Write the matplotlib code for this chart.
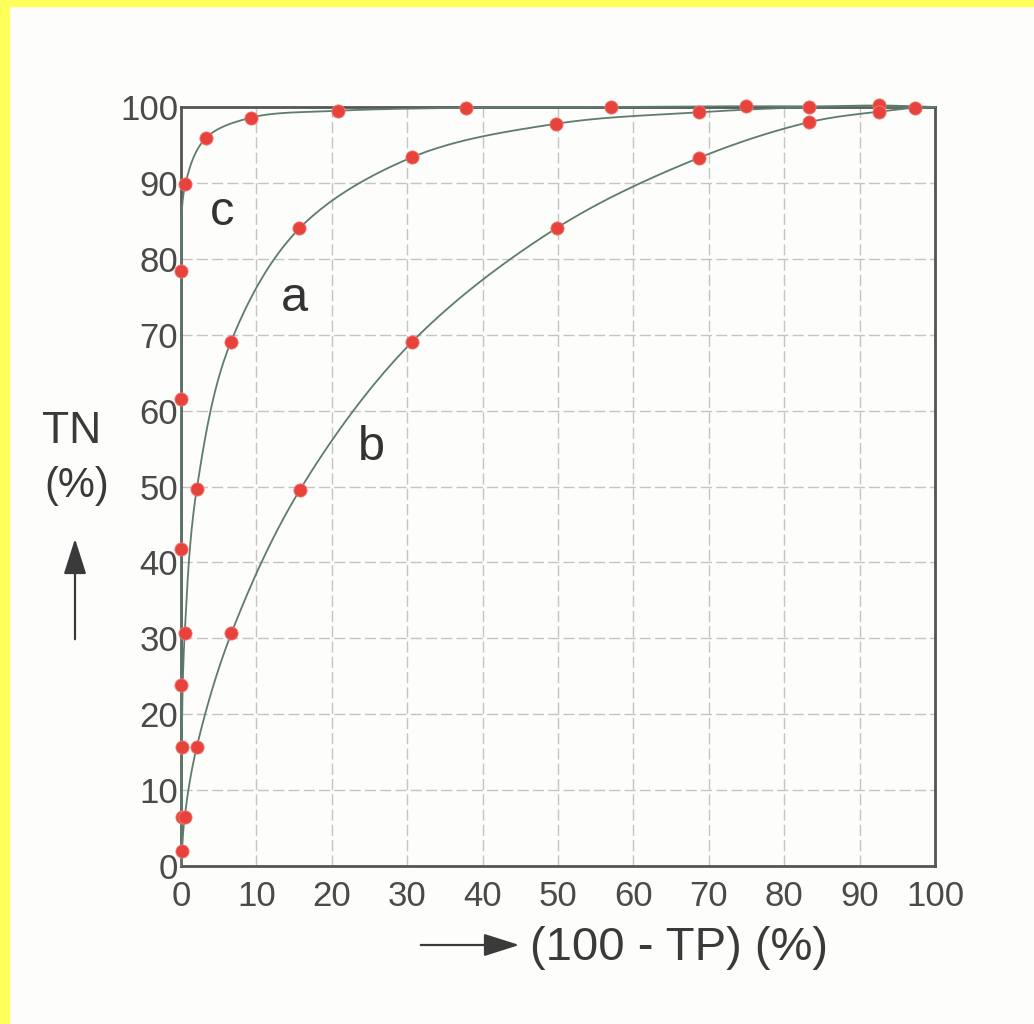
import numpy as np
import matplotlib.pyplot as plt
from matplotlib.patches import Rectangle

plt.rcParams['font.family'] = ['Liberation Sans', 'DejaVu Sans']

# points: x = (100 - TP) %, y = TN %
a_x = [0.1, 0.1, 0.5, 2.1, 6.6, 15.7, 30.7, 49.8, 68.7, 83.3, 92.6]
a_y = [6.5, 15.7, 30.7, 49.7, 69.0, 84.0, 93.4, 97.8, 99.3, 100.0, 100.2]

b_x = [0.5, 2.1, 6.7, 15.8, 30.6, 49.9, 68.7, 83.3, 92.6, 97.3]
b_y = [6.5, 15.7, 30.7, 49.6, 69.0, 84.1, 93.3, 98.0, 99.4, 99.9]

c_x = [0.1, 0.0, 0.0, 0.0, 0.0, 0.6, 3.3, 9.3, 20.8, 37.8, 57.0, 75.0]
c_y = [2.0, 23.8, 41.8, 61.5, 78.4, 89.9, 95.9, 98.6, 99.5, 99.9, 100.0, 100.1]

ticks = [0, 10, 20, 30, 40, 50, 60, 70, 80, 90, 100]
curve_labels = {'a': (15.1, 73.1), 'b': (25.3, 53.5), 'c': (5.4, 84.5)}


def smooth(xs, ys, n=30):
    # centripetal catmull-rom, just for drawing the line through the points
    p = np.column_stack([xs, ys]).astype(float)
    p = np.vstack([2 * p[0] - p[1], p, 2 * p[-1] - p[-2]])
    out = []
    for i in range(1, len(p) - 2):
        p0, p1, p2, p3 = p[i - 1], p[i], p[i + 1], p[i + 2]
        t0 = 0.0
        t1 = t0 + np.linalg.norm(p1 - p0) ** 0.5
        t2 = t1 + np.linalg.norm(p2 - p1) ** 0.5
        t3 = t2 + np.linalg.norm(p3 - p2) ** 0.5
        t = np.linspace(t1, t2, n)[:, None]
        a1 = (t1 - t) / (t1 - t0) * p0 + (t - t0) / (t1 - t0) * p1
        a2 = (t2 - t) / (t2 - t1) * p1 + (t - t1) / (t2 - t1) * p2
        a3 = (t3 - t) / (t3 - t2) * p2 + (t - t2) / (t3 - t2) * p3
        b1 = (t2 - t) / (t2 - t0) * a1 + (t - t0) / (t2 - t0) * a2
        b2 = (t3 - t) / (t3 - t1) * a2 + (t - t1) / (t3 - t1) * a3
        out.append((t2 - t) / (t2 - t1) * b1 + (t - t1) / (t2 - t1) * b2)
    out = np.vstack(out)
    return out[:, 0], out[:, 1]


fig = plt.figure(figsize=(10.34, 10.24), dpi=100, facecolor='#fdfdfb')
ax = fig.add_axes([0.175, 0.1543, 0.7292, 0.7412])
ax.set_facecolor('#fdfdfb')

line_col = '#5e7c6c'
dot_col = '#e8423c'

for xs, ys in [(a_x, a_y), (b_x, b_y), (c_x, c_y)]:
    lx, ly = smooth([0] + xs + [100], [0] + ys + [100])
    ax.plot(np.clip(lx, 0, 100), np.clip(ly, 0, 100.2), color=line_col, linewidth=1.3, zorder=3, clip_on=False)

for xs, ys in [(a_x, a_y), (b_x, b_y), (c_x, c_y)]:
    ax.plot(xs, ys, linestyle='none', marker='o', markersize=9.5, markerfacecolor=dot_col,
            markeredgecolor='#f07a70', markeredgewidth=0.6, zorder=4, clip_on=False)

for name, (tx, ty) in curve_labels.items():
    ax.text(tx, ty, name, fontsize=35, color='#333333', ha='center', va='baseline')

ax.set_xlim(0, 100)
ax.set_ylim(0, 100)
ax.set_xticks(ticks)
ax.set_yticks(ticks)
ax.grid(True, color='#c4c4c4', linestyle=(0, (8, 3)), linewidth=1.0)
ax.set_axisbelow(True)
ax.tick_params(length=0, labelsize=25, labelcolor='#4a4a4a')
ax.tick_params(axis='x', pad=10)
ax.tick_params(axis='y', pad=2)
for s in ax.spines.values():
    s.set_color('#555555')
    s.set_linewidth(2)
    s.set_zorder(2)

fig.text(72 / 1034, 0.5674, 'TN', fontsize=32, color='#3a3a3a', ha='center', va='baseline')
fig.text(77 / 1034, 0.5146, '(%)', fontsize=30, color='#3a3a3a', ha='center', va='baseline')
fig.text(530 / 1034, 0.0625, '(100 - TP) (%)', fontsize=34, color='#3a3a3a', ha='left', va='baseline')

arrow = dict(arrowstyle='-|>,head_length=2.2,head_width=0.7', color='#3a3a3a', lw=1.6)
ax.annotate('', xy=(75, 1024 - 536), xytext=(75, 1024 - 642), xycoords='figure pixels',
            textcoords='figure pixels', arrowprops=arrow)
ax.annotate('', xy=(522, 1024 - 945), xytext=(418, 1024 - 945), xycoords='figure pixels',
            textcoords='figure pixels', arrowprops=arrow)

# yellow slide border
fig.patches.append(Rectangle((0, 0), 9 / 1034, 1, transform=fig.transFigure, color='#ffff5a', zorder=10))
fig.patches.append(Rectangle((0, 1 - 6 / 1024), 1, 6 / 1024, transform=fig.transFigure, color='#ffff5a', zorder=10))

plt.savefig('out.png', dpi=100, facecolor=fig.get_facecolor())
